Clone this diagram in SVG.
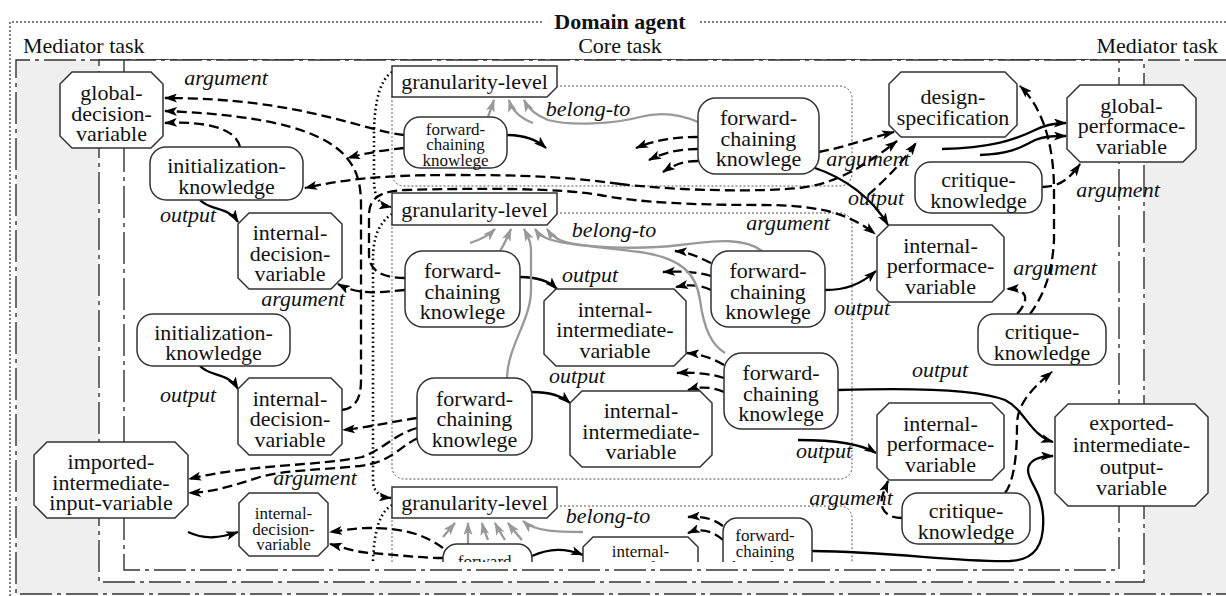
<svg xmlns="http://www.w3.org/2000/svg" width="1226" height="596" viewBox="0 0 1226 596" font-family="Liberation Serif, serif">
<defs>
<style>
.t{font-family:"Liberation Serif","Times New Roman",serif;font-size:22px;text-anchor:middle;fill:#111}
.ts{font-size:17px}
.lb{font-style:italic}
.n{fill:#fff;stroke:#333;stroke-width:1.5}
.fr{fill:none;stroke:#333;stroke-width:1.4;stroke-dasharray:32 5 4 5}
.grp{fill:none;stroke:#555;stroke-width:1;stroke-dasharray:2 2}
.d{fill:none;stroke:#000;stroke-width:2.3;stroke-dasharray:10 5;marker-end:url(#ah)}
.s{fill:none;stroke:#000;stroke-width:2.3;marker-end:url(#ah)}
.g{fill:none;stroke:#999;stroke-width:2.3;marker-end:url(#ahg)}
.dt{fill:none;stroke:#000;stroke-width:2.6;stroke-dasharray:1.6 3}
</style>
<marker id="ah" viewBox="0 0 13 9" refX="12" refY="4.5" markerWidth="13" markerHeight="9" markerUnits="userSpaceOnUse" orient="auto"><path d="M0,0 L13,4.5 L0,9 L3,4.5 z" fill="#000"/></marker>
<marker id="ahg" viewBox="0 0 13 9" refX="12" refY="4.5" markerWidth="13" markerHeight="9" markerUnits="userSpaceOnUse" orient="auto"><path d="M0,0 L13,4.5 L0,9 L3,4.5 z" fill="#999"/></marker>
<clipPath id="cut"><rect x="0" y="0" width="1226" height="562"/></clipPath>
</defs>
<rect width="1226" height="596" fill="#fff"/>

<!-- agent and task frames -->
<g id="frames">
<path d="M10,596 L10,22 L542,22 M700,22 L1226,22" fill="none" stroke="#000" stroke-width="1" stroke-dasharray="2 2"/>
<text class="t" x="620" y="29" font-weight="bold">Domain agent</text>
<rect x="16" y="60" width="1220" height="534" fill="#efefef"/>
<path class="fr" d="M1226,60 L16,60 L16,594 L1226,594"/>
<rect class="fr" x="99" y="60" width="1045" height="522" style="fill:#fff"/>
<rect class="fr" x="124" y="60" width="995" height="510" style="fill:#fff"/>
<text class="t" x="23" y="53" style="text-anchor:start">Mediator task</text>
<text class="t" x="620" y="53">Core task</text>
<text class="t" x="1218" y="53" style="text-anchor:end">Mediator task</text>
</g>

<!-- granularity groups -->
<g id="level-groups">
<rect class="grp" x="392" y="86" width="460" height="100" rx="12"/>
<rect class="grp" x="392" y="213" width="460" height="266" rx="12"/>
<rect class="grp" x="392" y="506" width="460" height="90" rx="12" clip-path="url(#cut)"/>
</g>

<g id="connectors">
<!-- top level -->
<path class="d" d="M404,135 C360,130 300,98 165,98"/>
<path class="d" d="M342,410 C356,408 361,398 361,380 L361,205 C361,160 345,118 165,111"/>
<path class="d" d="M240,147 C236,128 205,121 165,123"/>
<path class="d" d="M620,184 C560,176 520,175 450,175 C380,175 340,180 305,188"/>
<path class="d" d="M620,184 C680,191 760,192 800,188 C840,183 870,162 897,141"/>
<path class="d" d="M819,152 C845,147 870,138 894,132"/>
<path class="d" d="M868,195 C885,180 900,165 916,143"/>
<path class="d" d="M405,278 C385,278 369,272 369,255 L369,215 C369,198 380,191 405,190 C480,188 560,188 600,195 C640,203 700,205 760,205 C810,205 845,210 875,234"/>
<path class="d" d="M404,148 C385,150 365,153 348,158"/>
<path class="s" d="M507,135 C525,135 537,140 546,148"/>
<path class="g" d="M488,117 C490,111 492,106 494,100"/>
<path class="g" d="M533,123 C520,118 512,110 509,100"/>
<path class="g" d="M698,122 C675,112 655,113 640,117 C615,124 570,126 548,120 C535,115 528,108 524,100"/>
<path class="d" d="M698,137 C675,137 655,140 636,148"/>
<path class="d" d="M698,149 C680,149 665,152 649,160"/>
<path class="d" d="M698,161 C685,161 675,164 663,172"/>
<path class="s" d="M815,168 C845,178 872,198 888,225"/>
<path class="d" d="M1042,187 C1060,187 1070,178 1080,164"/>
<path class="s" d="M942,149 C990,148 1015,140 1035,130 C1045,125 1055,123 1066,123"/>
<path class="s" d="M980,155 C1010,154 1020,148 1035,140 C1045,136 1055,136 1066,136"/>
<path class="d" d="M1030,314 C1040,300 1052,280 1054,240 L1054,190 C1054,150 1045,110 1020,86"/>
<path class="d" d="M1017,314 C1030,300 1028,288 1007,289"/>
<path class="s" d="M200,200 C210,211 228,206 238,222"/>
<path class="s" d="M200,366 C210,377 228,372 238,389"/>
<!-- middle level -->
<path class="s" d="M825,290 C845,290 860,285 876,271"/>
<path class="d" d="M711,263 C700,258 690,252 675,251"/>
<path class="d" d="M711,276 C698,272 683,271 663,272"/>
<path class="d" d="M711,290 C700,285 690,284 676,287"/>
<path class="d" d="M405,290 C380,292 360,296 338,284"/>
<path class="s" d="M520,277 C535,277 548,280 557,289"/>
<path class="g" d="M762,251 C745,238 720,240 680,245 C640,250 580,248 560,240 C552,236 549,232 547,229"/>
<path class="g" d="M500,251 C505,243 508,236 511,229"/>
<path class="g" d="M470,243 C480,240 488,236 495,229"/>
<path class="g" d="M507,378 C508,345 531,320 531,290 L531,250 C531,240 527,235 524,229"/>
<path class="g" d="M725,353 C712,345 704,330 700,300 C696,272 680,258 640,252 C590,246 560,244 546,238 C540,235 537,232 535,229"/>
<path class="s" d="M532,392 C550,392 562,396 570,403"/>
<path class="d" d="M724,365 C712,358 700,354 687,353"/>
<path class="d" d="M724,378 C712,374 695,372 677,373"/>
<path class="d" d="M724,392 C712,387 700,386 688,390"/>
<path class="d" d="M417,418 C390,422 365,428 343,430"/>
<path class="d" d="M417,428 C395,434 382,450 362,457 C320,466 250,464 189,479"/>
<path class="d" d="M418,438 C400,446 392,462 360,466 C320,470 285,470 260,477 C235,485 215,492 189,493"/>
<path class="s" d="M188,532 C205,540 220,538 238,532"/>
<path class="s" d="M838,390 C900,388 975,388 1005,400 C1025,410 1030,435 1053,442"/>
<path class="s" d="M798,440 C830,440 860,443 876,453"/>
<path class="d" d="M902,518 C885,518 880,508 882,498 C884,490 886,486 888,481"/>
<path class="d" d="M1005,493 C1015,480 1017,450 1017,425 C1017,405 1030,390 1052,372"/>
<path class="s" d="M812,551 C900,552 950,562 1010,561 C1035,560 1045,545 1043,515 C1041,490 1028,482 1028,470 C1028,460 1040,456 1053,456"/>
<!-- bottom level -->
<g clip-path="url(#cut)">
<path class="d" d="M443,548 C425,535 405,528 370,528 C355,528 345,530 330,532"/>
<path class="d" d="M443,558 C420,558 400,555 370,553 C355,552 345,548 330,544"/>
<path class="g" d="M443,537 L455,523"/>
<path class="g" d="M468,544 L468,523"/>
<path class="g" d="M488,540 C485,532 483,527 482,523"/>
<path class="g" d="M505,540 C500,532 497,527 495,523"/>
<path class="g" d="M522,540 C515,532 511,527 508,523"/>
<path class="g" d="M583,532 C560,532 535,532 523,521"/>
<path class="s" d="M532,556 C550,548 565,548 583,555"/>
<path class="d" d="M723,526 C712,518 702,516 688,517"/>
<path class="d" d="M723,540 C712,530 700,528 688,533"/>
</g>
<!-- granularity chain -->
<path class="dt" d="M392,72 C380,80 375,100 374,130 L374,180 C374,198 380,205 391,207" marker-end="url(#ah)"/>
<path class="dt" d="M392,214 C380,222 373,235 373,260 L373,480 C373,492 380,497 391,498" marker-end="url(#ah)"/>
<path class="dt" d="M392,505 C380,512 374,530 373,562" clip-path="url(#cut)"/>
</g>

<!-- nodes -->
<g id="global-decision-variable"><polygon class="n" points="72,72 151,72 163,84 163,136 151,148 72,148 60,136 60,84"/><text class="t" x="111.5" y="100">global-</text><text class="t" x="111.5" y="120.5">decision-</text><text class="t" x="111.5" y="141">variable</text></g>
<g id="initialization-knowledge-1"><rect class="n" x="150" y="147" width="153" height="53" rx="16"/><text class="t" x="226.5" y="173">initialization-</text><text class="t" x="226.5" y="193.5">knowledge</text></g>
<g id="internal-decision-variable-1"><polygon class="n" points="249,213 331,213 342,224 342,278 331,289 249,289 238,278 238,224"/><text class="t" x="290" y="240">internal-</text><text class="t" x="290" y="260.5">decision-</text><text class="t" x="290" y="281">variable</text></g>
<g id="initialization-knowledge-2"><rect class="n" x="137" y="314" width="153" height="52" rx="16"/><text class="t" x="213.5" y="339.5">initialization-</text><text class="t" x="213.5" y="360">knowledge</text></g>
<g id="internal-decision-variable-2"><polygon class="n" points="249,378 331,378 342,389 342,444 331,455 249,455 238,444 238,389"/><text class="t" x="290" y="405.5">internal-</text><text class="t" x="290" y="426">decision-</text><text class="t" x="290" y="446.5">variable</text></g>
<g id="imported-intermediate-input-variable"><polygon class="n" points="47,442 175,442 188,455 188,505 175,518 47,518 34,505 34,455"/><text class="t" x="111" y="469">imported-</text><text class="t" x="111" y="489.5">intermediate-</text><text class="t" x="111" y="510">input-variable</text></g>
<g id="internal-decision-variable-3"><polygon class="n" points="249,493 318,493 328,503 328,546 318,556 249,556 239,546 239,503"/><text class="t ts" x="283.5" y="519">internal-</text><text class="t ts" x="283.5" y="535">decision-</text><text class="t ts" x="283.5" y="550">variable</text></g>

<g id="granularity-level-1"><polygon class="n" points="392,66 557,66 557,87 547,97 392,97"/><text class="t" x="474.5" y="89">granularity-level</text></g>
<g id="granularity-level-2"><polygon class="n" points="392,193 557,193 557,214 547,225 392,225"/><text class="t" x="474.5" y="217">granularity-level</text></g>
<g id="granularity-level-3"><polygon class="n" points="392,487 557,487 557,508 547,518 392,518"/><text class="t" x="474.5" y="510">granularity-level</text></g>

<g id="forward-chaining-1"><rect class="n" x="404" y="117" width="103" height="51" rx="16"/><text class="t ts" x="455.5" y="134.5">forward-</text><text class="t ts" x="455.5" y="150">chaining</text><text class="t ts" x="455.5" y="165.5">knowlege</text></g>
<g id="forward-chaining-2"><rect class="n" x="698" y="98" width="121" height="76" rx="18"/><text class="t" x="758.5" y="125">forward-</text><text class="t" x="758.5" y="145.5">chaining</text><text class="t" x="758.5" y="166">knowlege</text></g>
<g id="forward-chaining-3"><rect class="n" x="405" y="251" width="115" height="76" rx="18"/><text class="t" x="462.5" y="278">forward-</text><text class="t" x="462.5" y="298.5">chaining</text><text class="t" x="462.5" y="319">knowlege</text></g>
<g id="internal-intermediate-variable-1"><polygon class="n" points="556,289 674,289 686,301 686,354 674,366 556,366 544,354 544,301"/><text class="t" x="615" y="316.5">internal-</text><text class="t" x="615" y="337">intermediate-</text><text class="t" x="615" y="357.5">variable</text></g>
<g id="forward-chaining-4"><rect class="n" x="711" y="251" width="114" height="76" rx="18"/><text class="t" x="768" y="278">forward-</text><text class="t" x="768" y="298.5">chaining</text><text class="t" x="768" y="319">knowlege</text></g>
<g id="forward-chaining-5"><rect class="n" x="724" y="353" width="114" height="76" rx="18"/><text class="t" x="781" y="380">forward-</text><text class="t" x="781" y="400.5">chaining</text><text class="t" x="781" y="421">knowlege</text></g>
<g id="forward-chaining-6"><rect class="n" x="417" y="378" width="115" height="77" rx="18"/><text class="t" x="474.5" y="405.5">forward-</text><text class="t" x="474.5" y="426">chaining</text><text class="t" x="474.5" y="446.5">knowlege</text></g>
<g id="internal-intermediate-variable-2"><polygon class="n" points="582,391 700,391 712,403 712,455 700,467 582,467 570,455 570,403"/><text class="t" x="641" y="418">internal-</text><text class="t" x="641" y="438.5">intermediate-</text><text class="t" x="641" y="459">variable</text></g>

<g id="design-specification"><polygon class="n" points="901,72 1005,72 1017,84 1017,125 1005,137 901,137 889,125 889,84"/><text class="t" x="953" y="104">design-</text><text class="t" x="953" y="124.5">specification</text></g>
<g id="global-performace-variable"><polygon class="n" points="1080,85 1183,85 1196,98 1196,149 1183,162 1080,162 1067,149 1067,98"/><text class="t" x="1131.5" y="112.5">global-</text><text class="t" x="1131.5" y="133">performace-</text><text class="t" x="1131.5" y="153.5">variable</text></g>
<g id="critique-knowledge-1"><rect class="n" x="915" y="162" width="127" height="51" rx="16"/><text class="t" x="978.5" y="187">critique-</text><text class="t" x="978.5" y="207.5">knowledge</text></g>
<g id="internal-performace-variable-1"><polygon class="n" points="889,225 992,225 1004,237 1004,290 992,302 889,302 877,290 877,237"/><text class="t" x="940.5" y="252.5">internal-</text><text class="t" x="940.5" y="273">performace-</text><text class="t" x="940.5" y="293.5">variable</text></g>
<g id="critique-knowledge-2"><rect class="n" x="978" y="314" width="128" height="51" rx="16"/><text class="t" x="1042" y="339">critique-</text><text class="t" x="1042" y="359.5">knowledge</text></g>
<g id="internal-performace-variable-2"><polygon class="n" points="889,403 992,403 1004,415 1004,468 992,480 889,480 877,468 877,415"/><text class="t" x="940.5" y="430.5">internal-</text><text class="t" x="940.5" y="451">performace-</text><text class="t" x="940.5" y="471.5">variable</text></g>
<g id="critique-knowledge-3"><rect class="n" x="902" y="493" width="128" height="51" rx="16"/><text class="t" x="966" y="518">critique-</text><text class="t" x="966" y="538.5">knowledge</text></g>
<g id="exported-intermediate-output-variable"><polygon class="n" points="1068,404 1195,404 1208,417 1208,493 1195,506 1068,506 1055,493 1055,417"/><text class="t" x="1131.5" y="430">exported-</text><text class="t" x="1131.5" y="452">intermediate-</text><text class="t" x="1131.5" y="473.5">output-</text><text class="t" x="1131.5" y="495">variable</text></g>

<g clip-path="url(#cut)">
<g id="forward-chaining-7"><rect class="n" x="443" y="544" width="89" height="50" rx="14"/><text class="t ts" x="487.5" y="567">forward-</text></g>
<g id="internal-intermediate-variable-3"><polygon class="n" points="593,537 688,537 698,547 698,577 688,587 593,587 583,577 583,547"/><text class="t ts" x="640.5" y="557">internal-</text><text class="t ts" x="640.5" y="573">intermediate-</text></g>
<g id="forward-chaining-8"><rect class="n" x="723" y="518" width="89" height="60" rx="14"/><text class="t ts" x="765" y="541">forward-</text><text class="t ts" x="765" y="557">chaining</text><text class="t ts" x="765" y="573">knowlege</text></g>
</g>

<!-- relation labels -->
<g id="labels">
<text class="t lb" x="226" y="85">argument</text>
<text class="t lb" x="588" y="116">belong-to</text>
<text class="t lb" x="188" y="222">output</text>
<text class="t lb" x="303" y="306">argument</text>
<text class="t lb" x="188" y="402">output</text>
<text class="t lb" x="315" y="485">argument</text>
<text class="t lb" x="614" y="237">belong-to</text>
<text class="t lb" x="590" y="282">output</text>
<text class="t lb" x="788" y="230">argument</text>
<text class="t lb" x="577" y="383">output</text>
<text class="t lb" x="862" y="315">output</text>
<text class="t lb" x="876" y="205">output</text>
<text class="t lb" x="868" y="166">argument</text>
<text class="t lb" x="1118" y="197">argument</text>
<text class="t lb" x="1055" y="275">argument</text>
<text class="t lb" x="940" y="377">output</text>
<text class="t lb" x="824" y="458">output</text>
<text class="t lb" x="851" y="505">argument</text>
<text class="t lb" x="608" y="523">belong-to</text>
</g>
</svg>
